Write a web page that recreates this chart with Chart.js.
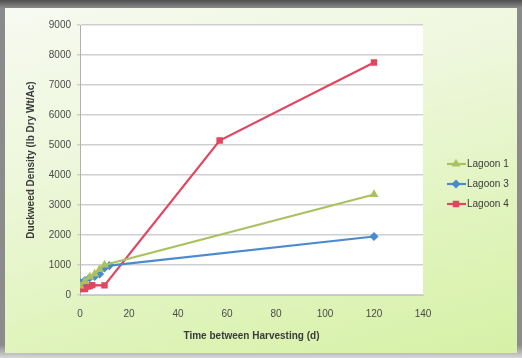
<!DOCTYPE html>
<html>
<head>
<meta charset="utf-8">
<script src="https://cdn.jsdelivr.net/npm/chart.js@4.4.1/dist/chart.umd.min.js"></script>
<style>
  html, body { margin: 0; padding: 0; width: 522px; height: 358px; overflow: hidden; }
  body { background: linear-gradient(to bottom, #4f4f4f 0px, #8a8a8a 8px, #8c8c8c 345px, #d8d8d8 358px); position: relative; }
  #panel {
    position: absolute; left: 5px; top: 8px; width: 512px; height: 345px;
    background: linear-gradient(165deg, #f7faf1 0%, #eef7dc 35%, #e0f4bd 70%, #d6f1a6 100%);
  }
  #wrap { position: absolute; left: 0; top: 0; width: 522px; height: 358px; }
</style>
</head>
<body>
<div id="panel"></div>
<div id="wrap"><canvas id="densityChart" width="522" height="358"></canvas></div>
<script>
// harvest interval (d) vs duckweed density, one series per lagoon
const lagoon1Days = [0, 2, 4, 6, 8, 10, 120];
const lagoon1Density = [300, 450, 600, 700, 850, 1000, 3350];

const lagoon3Days = [0, 2, 4, 6, 8, 10, 12, 120];
const lagoon3Density = [420, 480, 580, 620, 700, 900, 980, 1950];

const lagoon4Days = [0, 1, 2, 3, 4, 5, 10, 57, 120];
const lagoon4Density = [200, 250, 200, 280, 300, 330, 320, 5150, 7750];

const seriesNames = ['Lagoon 1', 'Lagoon 3', 'Lagoon 4'];

const toPoints = (xs, ys) => xs.map((x, i) => ({ x: x, y: ys[i] }));

// white plot area on the green panel
const plotBackground = {
  id: 'plotBackground',
  beforeDraw(chart) {
    const { ctx, chartArea: a } = chart;
    ctx.save();
    ctx.fillStyle = '#ffffff';
    ctx.fillRect(a.left, a.top, a.right - a.left, a.bottom - a.top);
    ctx.restore();
  }
};

// legend sits a bit lower than the built-in right legend would
const sideLegend = {
  id: 'sideLegend',
  afterDraw(chart) {
    const ctx = chart.ctx;
    ctx.save();
    chart.data.datasets.forEach((ds, i) => {
      const y = 164 + i * 20;
      ctx.strokeStyle = ds.borderColor;
      ctx.lineWidth = 2.2;
      ctx.beginPath();
      ctx.moveTo(447, y);
      ctx.lineTo(466, y);
      ctx.stroke();
      ctx.fillStyle = ds.pointBackgroundColor;
      ctx.strokeStyle = ds.borderColor;
      Chart.helpers.drawPoint(ctx, { pointStyle: ds.pointStyle, radius: ds.pointRadius, rotation: 0, borderWidth: 1 }, 456, y);
      ctx.fillStyle = '#3a3a3a';
      ctx.font = '10px "Liberation Sans", sans-serif';
      ctx.textBaseline = 'middle';
      ctx.fillText(ds.label, 467, y);
    });
    ctx.restore();
  }
};

const ctx = document.getElementById('densityChart').getContext('2d');

new Chart(ctx, {
  type: 'line',
  data: {
    datasets: [
      {
        label: seriesNames[0],
        data: toPoints(lagoon1Days, lagoon1Density),
        borderColor: '#a9c25f',
        backgroundColor: '#a9c25f',
        pointBackgroundColor: '#a9c25f',
        pointStyle: 'triangle',
        pointRadius: 3,
        borderWidth: 2.2
      },
      {
        label: seriesNames[1],
        data: toPoints(lagoon3Days, lagoon3Density),
        borderColor: '#4a8bd0',
        backgroundColor: '#4a8bd0',
        pointBackgroundColor: '#4a8bd0',
        pointStyle: 'rectRot',
        pointRadius: 3,
        borderWidth: 2.2
      },
      {
        label: seriesNames[2],
        data: toPoints(lagoon4Days, lagoon4Density),
        borderColor: '#e2455f',
        backgroundColor: '#e2455f',
        pointBackgroundColor: '#e2455f',
        pointStyle: 'rect',
        pointRadius: 3,
        borderWidth: 2.2
      }
    ]
  },
  options: {
    responsive: false,
    animation: false,
    layout: { padding: { left: 25, top: 25, right: 99, bottom: 16 } },
    plugins: {
      legend: { display: false },
      tooltip: { enabled: false }
    },
    scales: {
      x: {
        type: 'linear',
        min: 0,
        max: 140,
        ticks: {
          stepSize: 20,
          color: '#4a4a4a',
          font: { family: 'Liberation Sans', size: 10 },
          padding: 13
        },
        grid: { display: false, drawTicks: false },
        border: { color: '#c8c8c8', width: 1 },
        title: {
          display: true,
          text: 'Time between Harvesting (d)',
          color: '#3a3a3a',
          font: { family: 'Liberation Sans', size: 10, weight: 'bold' },
          padding: 0
        },
        afterFit: (scale) => { scale.height = 47; }
      },
      y: {
        min: 0,
        max: 9000,
        ticks: {
          stepSize: 1000,
          color: '#4a4a4a',
          font: { family: 'Liberation Sans', size: 10 },
          padding: 6,
          callback: (value) => String(value)
        },
        grid: { color: '#cfcfcf', lineWidth: 1.5, tickLength: 3 },
        border: { color: '#b0b0b0', width: 1 },
        title: {
          display: true,
          text: 'Duckweed Density (lb Dry Wt/Ac)',
          color: '#3a3a3a',
          font: { family: 'Liberation Sans', size: 10, weight: 'bold' },
          padding: 0
        },
        afterFit: (scale) => { scale.width = 55; }
      }
    }
  },
  plugins: [plotBackground, sideLegend]
});
</script>
</body>
</html>
